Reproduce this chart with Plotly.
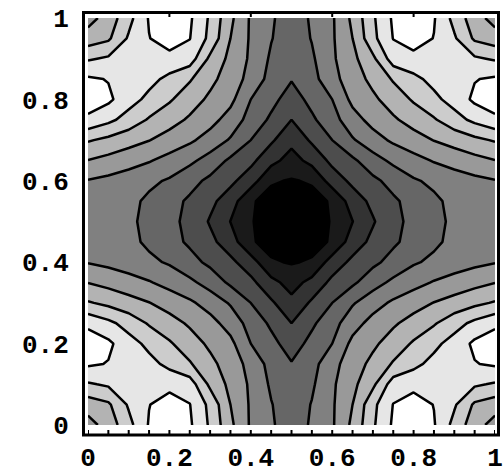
import numpy as np
import plotly.graph_objects as go

# Sample positions of the 21 x 21 grid on the unit square (step 0.05)
grid_pts = [0.00, 0.05, 0.10, 0.15, 0.20, 0.25, 0.30, 0.35, 0.40, 0.45, 0.50,
            0.55, 0.60, 0.65, 0.70, 0.75, 0.80, 0.85, 0.90, 0.95, 1.00]

# Field values on the lower-left quarter (x, y in [0, 0.5]);
# rows run over y = 0 .. 0.5, columns over x = 0 .. 0.5
quarter = [
    [6.60, 7.43, 8.68, 10.08, 10.70, 10.15, 8.85, 7.22, 5.87, 5.13, 4.45],
    [7.46, 7.84, 9.13, 9.97, 10.45, 10.03, 8.73, 7.00, 5.87, 5.05, 4.40],
    [8.88, 9.15, 9.35, 9.55, 9.70, 9.50, 7.78, 6.74, 5.84, 4.85, 4.28],
    [10.15, 9.95, 9.60, 9.30, 8.74, 8.10, 7.26, 6.53, 5.67, 4.65, 4.06],
    [10.58, 10.20, 9.40, 8.75, 8.12, 7.45, 6.81, 6.26, 5.00, 4.29, 3.55],
    [9.77, 9.25, 8.60, 7.90, 7.38, 6.86, 6.34, 5.60, 4.62, 3.83, 3.00],
    [8.10, 7.75, 7.38, 7.03, 6.60, 6.17, 5.60, 4.90, 4.00, 3.15, 2.29],
    [6.98, 6.70, 6.40, 6.08, 5.67, 5.22, 4.60, 3.82, 3.25, 2.33, 1.59],
    [5.95, 5.75, 5.50, 5.20, 4.89, 4.33, 3.78, 3.22, 2.47, 1.10, 0.93],
    [5.65, 5.50, 5.25, 4.82, 4.35, 3.84, 3.24, 2.50, 1.10, 0.70, 0.45],
    [5.55, 5.42, 5.15, 4.79, 4.30, 3.70, 2.91, 1.98, 1.09, 0.45, 0.20],
]

# Contour levels
level_start, level_end, level_step = 1, 10, 1

# Axis tick labels
tick_vals = [0, 0.2, 0.4, 0.6, 0.8, 1]
tick_text = ["0", "0.2", "0.4", "0.6", "0.8", "1"]

# The field is mirror-symmetric about x = 0.5 and y = 0.5
q = np.array(quarter)
full_x = np.hstack([q, q[:, -2::-1]])
z = np.vstack([full_x, full_x[-2::-1, :]])

fig = go.Figure(
    go.Contour(
        x=grid_pts,
        y=grid_pts,
        z=z,
        contours=dict(start=level_start, end=level_end, size=level_step,
                      coloring="fill"),
        colorscale=[[0, "black"], [1, "white"]],
        line=dict(color="black", width=2.5, smoothing=0),
        showscale=False,
        hoverinfo="skip",
    )
)

W, H = 503, 474
L, R, T, B = 88, 8, 18, 49
pw, ph = W - L - R, H - T - B


def px_to_paper_x(px):
    return (px - L) / pw


def px_to_paper_y(py):
    return (H - B - py) / ph


shapes = [
    dict(type="rect", xref="paper", yref="paper",
         x0=px_to_paper_x(83.5), x1=px_to_paper_x(498.5),
         y0=px_to_paper_y(435), y1=px_to_paper_y(12.5),
         line=dict(color="black", width=3), fillcolor="rgba(0,0,0,0)",
         layer="above"),
]
# small frame ticks along the bottom edge every 0.05
for k in range(21):
    shapes.append(dict(type="line", xref="x", yref="paper",
                       x0=k * 0.05, x1=k * 0.05,
                       y0=px_to_paper_y(434), y1=px_to_paper_y(430),
                       line=dict(color="black", width=2)))
# frame ticks along the top edge
for v in tick_vals[1:-1]:
    shapes.append(dict(type="line", xref="x", yref="paper",
                       x0=v, x1=v,
                       y0=px_to_paper_y(13), y1=px_to_paper_y(17),
                       line=dict(color="black", width=2)))

tick_font = dict(family="Liberation Mono", size=26, color="black",
                 weight="bold")

fig.update_layout(
    width=W, height=H,
    margin=dict(l=L, r=R, t=T, b=B, pad=0, autoexpand=False),
    paper_bgcolor="white", plot_bgcolor="white",
    showlegend=False,
    shapes=shapes,
    xaxis=dict(range=[0, 1], tickvals=tick_vals, ticktext=tick_text,
               showgrid=False, zeroline=False, showline=False,
               automargin=False,
               ticks="outside", ticklen=9, tickcolor="rgba(0,0,0,0)",
               tickfont=tick_font),
    yaxis=dict(range=[0, 1], tickvals=tick_vals, ticktext=tick_text,
               showgrid=False, zeroline=False, showline=False,
               automargin=False,
               ticks="outside", ticklen=13, tickcolor="rgba(0,0,0,0)",
               tickfont=tick_font),
)

fig.write_html("out.html")
